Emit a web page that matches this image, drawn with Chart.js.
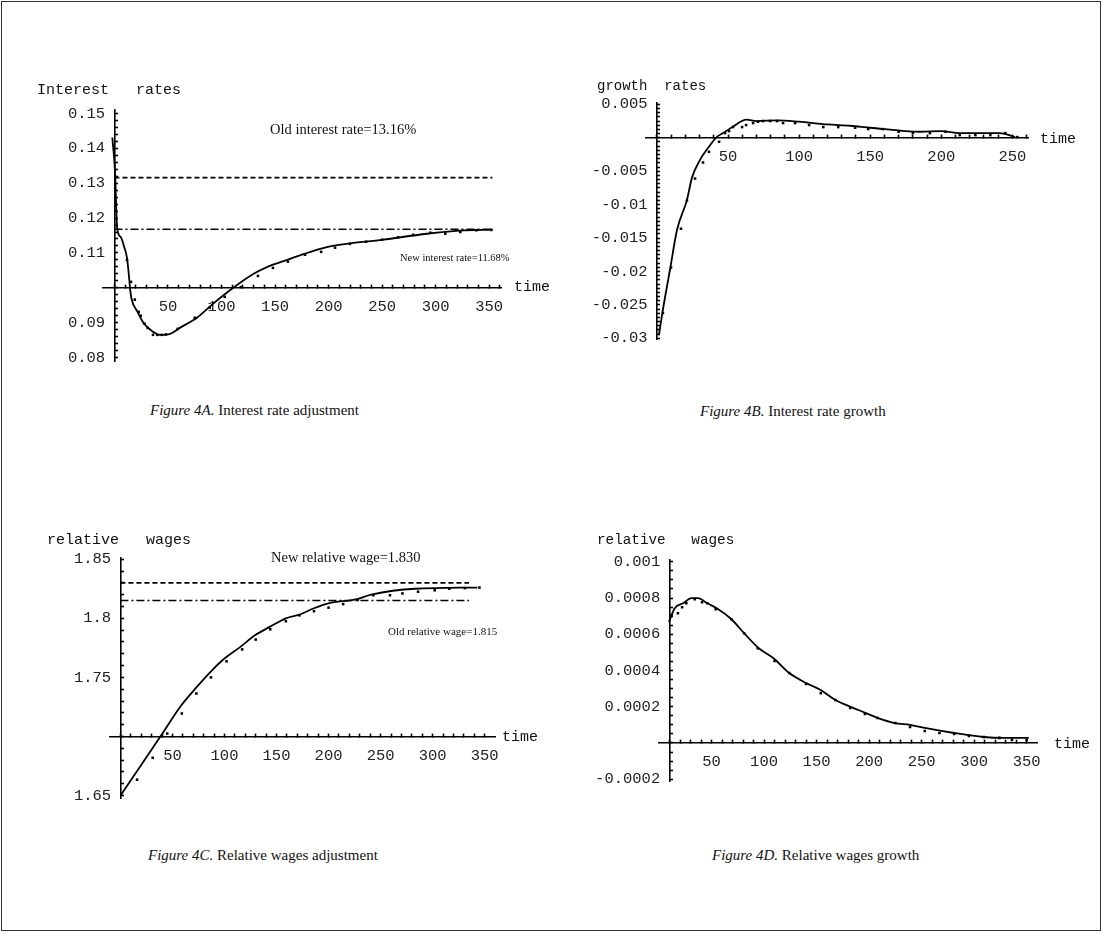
<!DOCTYPE html>
<html>
<head>
<meta charset="utf-8">
<script src="https://cdn.jsdelivr.net/npm/chart.js@4.4.1/dist/chart.umd.min.js"></script>
<style>
  body { margin: 0; background: #fff; }
  #page { position: relative; width: 1103px; height: 934px; overflow: hidden; background: #fff; }
  .frame { position: absolute; left: 1px; top: 1px; width: 1098px; height: 928px; border: 1px solid #333; }
  canvas { position: absolute; }
  .t { position: absolute; white-space: pre; line-height: 1; color: #111; transform: translateY(-50%); }
  .mono { font-family: "Liberation Mono", monospace; font-size: 15px; }
  .serif { font-family: "Liberation Serif", serif; }
  .cap { font-family: "Liberation Serif", serif; font-size: 15px; }
</style>
</head>
<body>
<div id="page">
  <div class="frame"></div>
  <canvas id="chartA"></canvas>
  <canvas id="chartB"></canvas>
  <canvas id="chartC"></canvas>
  <canvas id="chartD"></canvas>

  <div class="t mono" style="left:37px; top:90px;">Interest   rates</div>
  <div class="t mono" style="left:514px; top:287px;">time</div>
  <div class="t serif" style="left:270px; top:129px; font-size:14.5px;">Old interest rate=13.16%</div>
  <div class="t serif" style="left:400px; top:258px; font-size:10.5px;">New interest rate=11.68%</div>
  <div class="t cap" style="left:150px; top:410px;"><i>Figure 4A.</i> Interest rate adjustment</div>

  <div class="t mono" style="left:597px; top:86px; font-size:14px;">growth  rates</div>
  <div class="t mono" style="left:1040px; top:139px;">time</div>
  <div class="t cap" style="left:700px; top:411px;"><i>Figure 4B.</i> Interest rate growth</div>

  <div class="t mono" style="left:47px; top:540px;">relative   wages</div>
  <div class="t mono" style="left:502px; top:737px;">time</div>
  <div class="t serif" style="left:271px; top:557px; font-size:14.5px;">New relative wage=1.830</div>
  <div class="t serif" style="left:388px; top:631px; font-size:11px;">Old relative wage=1.815</div>
  <div class="t cap" style="left:148px; top:855px;"><i>Figure 4C.</i> Relative wages adjustment</div>

  <div class="t mono" style="left:597px; top:540px; font-size:14.3px;">relative   wages</div>
  <div class="t mono" style="left:1054px; top:744px;">time</div>
  <div class="t cap" style="left:712px; top:855px;"><i>Figure 4D.</i> Relative wages growth</div>
</div>
<script>
// Figure 4A - interest rate adjustment
const aTime = [-2, 0.5, 2.5, 6, 9, 11.7, 13.2, 14.5, 16, 21, 27, 35, 42.5, 52, 61, 77, 92, 111, 130, 145, 164, 186, 204, 251, 292, 323, 353];
const aRate = [0.1431, 0.1335, 0.1172, 0.1145, 0.1118, 0.1086, 0.1045, 0.1000, 0.0968, 0.0934, 0.0900, 0.0876, 0.0865, 0.0868, 0.0885, 0.0914, 0.0954, 0.1000, 0.1040, 0.1063, 0.1083, 0.1106, 0.1120, 0.1138, 0.1155, 0.1164, 0.1167];
const aDotTime = [11.7, 15.4, 19, 22.6, 24.5, 28, 31, 36, 40, 44, 48, 59, 75, 89, 103, 118, 134, 148, 162, 178, 193, 206, 220, 235, 250, 265, 279, 295, 309, 323, 338, 352];
const aDotRate = [0.1080, 0.1017, 0.0966, 0.0931, 0.0920, 0.0897, 0.0885, 0.0865, 0.0865, 0.0865, 0.0866, 0.0882, 0.0914, 0.0943, 0.0974, 0.1002, 0.1034, 0.1057, 0.1075, 0.1095, 0.1103, 0.1115, 0.1126, 0.1132, 0.1138, 0.1145, 0.1152, 0.1158, 0.1155, 0.1160, 0.1165, 0.1166];
const aRefTime = [0, 353];
const aOldRate = [0.1316, 0.1316];
const aNewRate = [0.1168, 0.1168];
const aXLabels = ['50', '100', '150', '200', '250', '300', '350'];
const aYLabels = ['0.08', '0.09', '0.11', '0.12', '0.13', '0.14', '0.15'];

// Figure 4B - interest rate growth
const bTime = [1.4, 4.2, 9.2, 14.1, 21.1, 24.6, 30.3, 36, 42, 48, 53, 63, 70, 85, 100, 120, 136, 150, 185, 200, 213, 241, 252];
const bGrowth = [-0.0295, -0.0257, -0.0197, -0.0138, -0.0093, -0.0060, -0.0033, -0.0015, 0.0001, 0.0009, 0.0016, 0.0027, 0.0025, 0.0026, 0.0024, 0.0020, 0.0018, 0.0015, 0.0009, 0.0010, 0.0007, 0.0007, 0.0001];
const bDotTime = [4.2, 9.9, 16.9, 21.1, 26.8, 32.4, 36.6, 43.7, 47.9, 50.7, 53.5, 59.9, 62.7, 67.6, 71.1, 74.6, 79.6, 84.5, 88.7, 97.2, 107, 117, 127.5, 139.4, 148.6, 159, 170, 180, 192, 203, 213, 224, 234.5, 245, 253.5];
const bDotGrowth = [-0.0262, -0.0194, -0.0136, -0.0094, -0.0061, -0.0037, -0.0021, -0.0006, 0.0007, 0.0010, 0.0016, 0.0016, 0.0019, 0.0022, 0.0024, 0.0025, 0.0025, 0.0025, 0.0022, 0.0022, 0.0019, 0.0016, 0.0016, 0.0015, 0.0013, 0.0013, 0.0009, 0.0007, 0.0007, 0.0009, 0.0004, 0.0004, 0.0004, 0.0007, 0.0001];
const bXLabels = ['50', '100', '150', '200', '250'];
const bYLabels = ['-0.03', '-0.025', '-0.02', '-0.015', '-0.01', '-0.005', '0.005'];

// Figure 4C - relative wages adjustment
const cTime = [0, 10, 20, 30, 41, 57, 73, 88, 100, 114, 130, 143, 159, 173, 186, 200, 226, 241, 283, 343];
const cWage = [1.650, 1.663, 1.676, 1.689, 1.7034, 1.7246, 1.7415, 1.756, 1.766, 1.775, 1.786, 1.7925, 1.800, 1.8034, 1.8085, 1.8127, 1.816, 1.820, 1.825, 1.826];
const cDotTime = [16, 31, 45, 59, 73, 87, 102, 117, 130, 144, 159, 172, 186, 200, 214, 228, 243, 259, 271, 286, 302, 316, 331, 345];
const cDotWage = [1.6635, 1.682, 1.7025, 1.7195, 1.7364, 1.750, 1.7636, 1.7737, 1.782, 1.7907, 1.7975, 1.8025, 1.806, 1.809, 1.812, 1.8155, 1.8195, 1.8195, 1.821, 1.8225, 1.8237, 1.825, 1.8255, 1.826];
const cRefTime = [0, 335];
const cNewWage = [1.830, 1.830];
const cOldWage = [1.815, 1.815];
const cXLabels = ['50', '100', '150', '200', '250', '300', '350'];
const cYLabels = ['1.65', '1.75', '1.8', '1.85'];

// Figure 4D - relative wages growth
const dTime = [9.4, 15, 23, 31, 37, 46, 55, 69, 81, 95, 109, 124, 140, 154, 168, 183, 197, 208, 224, 239, 253, 281, 309, 328, 352];
const dGrowth = [0.000667, 0.000744, 0.000771, 0.000800, 0.000800, 0.000771, 0.000744, 0.000683, 0.000606, 0.000523, 0.000468, 0.000386, 0.000331, 0.000292, 0.000237, 0.000198, 0.000165, 0.000138, 0.000110, 0.000100, 0.000083, 0.000055, 0.000033, 0.000028, 0.000028];
const dDotTime = [12, 18, 22, 26, 34, 41, 46, 54, 69, 81, 94, 110, 124, 140, 154, 168, 182, 196, 208, 225, 239, 253, 267, 281, 295, 309, 324, 336, 350];
const dDotGrowth = [0.000705, 0.000716, 0.000749, 0.000771, 0.000793, 0.000777, 0.000771, 0.000738, 0.000683, 0.000606, 0.000523, 0.000452, 0.000386, 0.000325, 0.000275, 0.000237, 0.000193, 0.000160, 0.000138, 0.000110, 0.000088, 0.000066, 0.000055, 0.000050, 0.000039, 0.000033, 0.000028, 0.000017, 0.000017];
const dXLabels = ['50', '100', '150', '200', '250', '300', '350'];
const dYLabels = ['-0.0002', '0.0002', '0.0004', '0.0006', '0.0008', '0.001'];

const pts = (xs, ys) => xs.map((x, i) => ({ x, y: ys[i] }));

// minor ticks every `step`, labels where a label string matches the value
function tickList(from, to, step, labels, pad) {
  const out = [];
  const n = Math.round((to - from) / step);
  for (let i = 0; i <= n; i++) {
    const v = +(from + i * step).toFixed(8);
    const hit = labels.find(l => Math.abs(parseFloat(l) - v) < step / 10);
    out.push({ v, l: hit ? hit + pad : '' });
  }
  return out;
}

function axis(r, pos, isY) {
  return {
    type: 'linear',
    position: pos,
    min: r.min,
    max: r.max,
    bounds: 'data',
    border: { display: true, color: '#000', width: 1.6 },
    grid: { display: true, drawOnChartArea: false, drawTicks: true, tickLength: -4, tickWidth: 1.6, tickColor: '#000' },
    ticks: {
      autoSkip: false,
      maxRotation: 0,
      minRotation: 0,
      padding: isY ? 0 : 14,
      color: '#222',
      font: { family: 'Liberation Mono', size: 15.5 },
      callback: (v, i, t) => (t[i] && t[i].lbl) || '',
    },
    afterBuildTicks: s => {
      s.ticks = r.ticks.map(k => ({ value: k.v, lbl: k.l }));
    },
  };
}

const solid = (data) => ({ data, showLine: true, borderColor: '#000', borderWidth: 1.8, pointRadius: 0, cubicInterpolationMode: 'monotone' });
const dots = (data) => ({ data, showLine: false, pointStyle: 'rect', pointRadius: 1.8, backgroundColor: '#000', borderWidth: 0 });
const dashed = (data, dash, w) => ({ data, showLine: true, borderColor: '#000', borderWidth: w, borderDash: dash, pointRadius: 0 });

function makeChart(id, box, xr, yr, datasets) {
  const pad = { left: 90, top: 14, right: 14, bottom: 40 };
  const cv = document.getElementById(id);
  cv.width = Math.round(box.right - box.left + pad.left + pad.right);
  cv.height = Math.round(box.bottom - box.top + pad.top + pad.bottom);
  cv.style.left = (box.left - pad.left) + 'px';
  cv.style.top = (box.top - pad.top) + 'px';
  new Chart(cv, {
    type: 'scatter',
    data: { datasets },
    options: {
      responsive: false,
      animation: false,
      devicePixelRatio: 1,
      events: [],
      layout: { padding: pad },
      plugins: { legend: { display: false }, tooltip: { enabled: false } },
      scales: {
        x: axis(xr, { y: yr.cross }, false),
        y: axis(yr, { x: xr.cross }, true),
      },
    },
  });
}

makeChart('chartA',
  { left: 103, top: 109.5, right: 501, bottom: 360 },
  { min: -10.7, max: 361, cross: 0, ticks: tickList(0, 360, 10, aXLabels, '') },
  { min: 0.079, max: 0.151, cross: 0.10, ticks: tickList(0.08, 0.15, 0.002, aYLabels, ' ') },
  [
    solid(pts(aTime, aRate)),
    dots(pts(aDotTime, aDotRate)),
    dashed(pts(aRefTime, aOldRate), [5, 3], 1.9),
    dashed(pts(aRefTime, aNewRate), [8, 3, 2, 3], 1.6),
  ]);

makeChart('chartB',
  { left: 646, top: 103, right: 1028, bottom: 339 },
  { min: -7.7, max: 261, cross: 0, ticks: tickList(0, 260, 10, bXLabels, '') },
  { min: -0.0301, max: 0.0052, cross: 0, ticks: tickList(-0.03, 0.005, 0.000625, bYLabels, ' ') },
  [
    solid(pts(bTime, bGrowth)),
    dots(pts(bDotTime, bDotGrowth)),
  ]);

makeChart('chartC',
  { left: 109.5, top: 558, right: 498, bottom: 797.5 },
  { min: -10, max: 360, cross: 0, ticks: tickList(0, 350, 10, cXLabels, '') },
  { min: 1.648, max: 1.851, cross: 1.70, ticks: tickList(1.65, 1.85, 0.01, cYLabels, ' ') },
  [
    solid(pts(cTime, cWage)),
    dots(pts(cDotTime, cDotWage)),
    dashed(pts(cRefTime, cNewWage), [5, 3], 1.9),
    dashed(pts(cRefTime, cOldWage), [8, 3, 2, 3], 1.6),
  ]);

makeChart('chartD',
  { left: 659, top: 560, right: 1040.6, bottom: 781 },
  { min: 0, max: 360, cross: 10, ticks: tickList(10, 350, 10, dXLabels, '') },
  { min: -0.00021, max: 0.00101, cross: 0, ticks: tickList(-0.0002, 0.001, 0.00005, dYLabels, ' ') },
  [
    solid(pts(dTime, dGrowth)),
    dots(pts(dDotTime, dDotGrowth)),
  ]);
</script>
</body>
</html>
